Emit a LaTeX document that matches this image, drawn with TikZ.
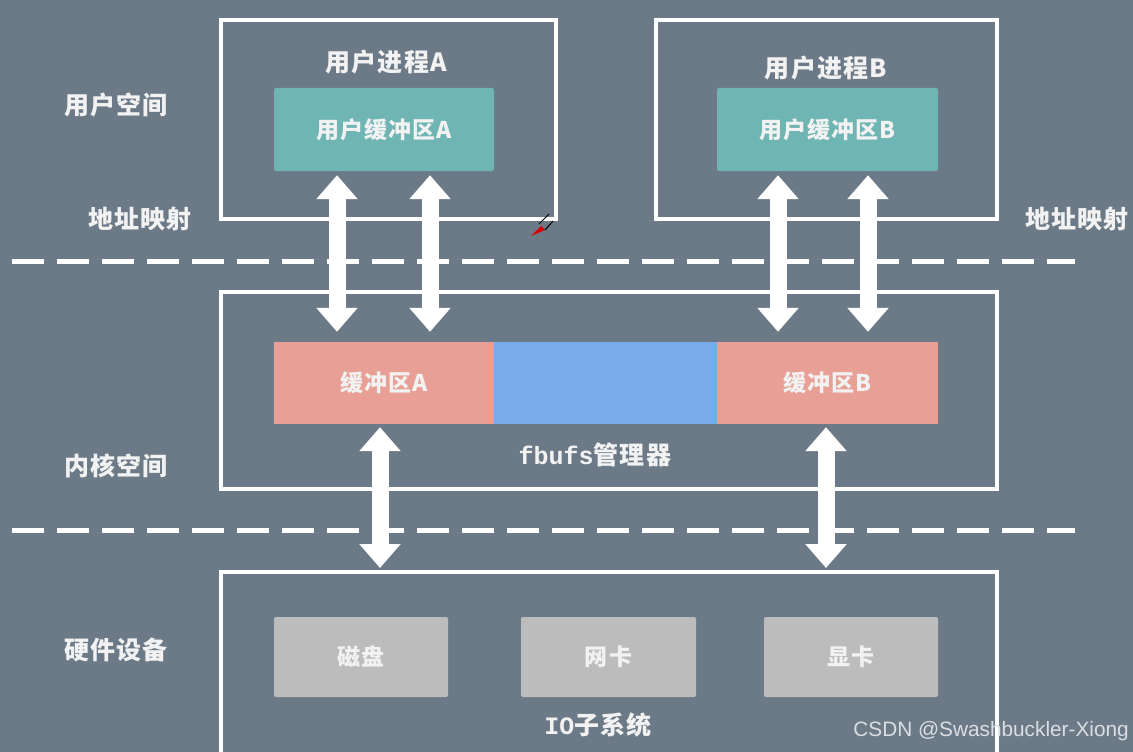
\documentclass[tikz,border=0pt]{standalone}
\usepackage{fontspec}
\setmainfont{Liberation Sans}
\newfontfamily\cjk[LetterSpace=5]{Noto Sans CJK SC}
\newfontfamily\monof{Liberation Mono}
\newfontfamily\wmfont{Liberation Sans}
\usetikzlibrary{arrows.meta}
\definecolor{bgc}{RGB}{108,122,136}
\definecolor{tealc}{RGB}{111,181,179}
\definecolor{salmonc}{RGB}{232,160,150}
\definecolor{bluec}{RGB}{121,170,235}
\definecolor{grayc}{RGB}{188,188,188}
\definecolor{txtc}{RGB}{242,242,242}
\definecolor{wmc}{RGB}{218,222,226}
\tikzset{
  frame/.style={draw=white, line width=4pt, fill=none, inner sep=0pt},
  fillbox/.style={draw=none, inner sep=0pt, text=txtc, font=\cjk\bfseries\fontsize{23}{26}\selectfont},
  lbl/.style={text=txtc, inner sep=0pt, font=\cjk\bfseries\fontsize{25}{28}\selectfont},
  dblarrow/.style={white, line width=17pt,
    {Triangle[width=40pt,length=24pt]}-{Triangle[width=40pt,length=24pt]}},
  dashline/.style={white, line width=5pt, dash pattern=on 32pt off 13pt},
}
\begin{document}
\begin{tikzpicture}[x=1pt,y=-1pt]
\fill[bgc] (0,0) rectangle (1133,752);
\useasboundingbox (0,0) rectangle (1133,752);

% dashed separators
\coordinate (d1s) at (12,261); \coordinate (d1e) at (1075,261);
\coordinate (d2s) at (12,530); \coordinate (d2e) at (1075,530);
\draw[dashline] (d1s) -- (d1e);
\draw[dashline] (d2s) -- (d2e);

% user processes
\node[frame, minimum width=335pt, minimum height=199pt] (procA) at (388.5,119.5) {};
\node[frame, minimum width=341pt, minimum height=199pt] (procB) at (826.5,119.5) {};
\node[lbl] (tA) at (386,62) {用户进程A};
\node[lbl] (tB) at (826,68) {用户进程B};
\node[fillbox, fill=tealc, rounded corners=2pt, minimum width=220pt, minimum height=83pt] (ubufA) at (384,129.5) {用户缓冲区A};
\node[fillbox, fill=tealc, rounded corners=2pt, minimum width=221pt, minimum height=83pt] (ubufB) at (827.5,129.5) {用户缓冲区B};

% kernel
\node[frame, minimum width=776pt, minimum height=197pt] (kern) at (609,390.5) {};
\node[fillbox, fill=salmonc, minimum width=220pt, minimum height=82pt] (kbufA) at (384,383) {缓冲区A};
\node[fillbox, fill=bluec, minimum width=223pt, minimum height=82pt] (kmid) at (605.5,383) {};
\node[fillbox, fill=salmonc, minimum width=221pt, minimum height=82pt] (kbufB) at (827.5,383) {缓冲区B};
\node[lbl] (fb) at (595,455) {{\monof\bfseries fbufs}管理器};

% hardware
\node[frame, minimum width=776pt, minimum height=200pt] (hw) at (609,672) {};
\node[fillbox, fill=grayc, rounded corners=2pt, minimum width=174pt, minimum height=80pt] (disk) at (361,657) {磁盘};
\node[fillbox, fill=grayc, rounded corners=2pt, minimum width=175pt, minimum height=80pt] (nic) at (608.5,657) {网卡};
\node[fillbox, fill=grayc, rounded corners=2pt, minimum width=174pt, minimum height=80pt] (gpu) at (851,657) {显卡};
\node[lbl] (io) at (598,725) {{\monof\bfseries IO}子系统};

% side labels
\node[lbl] (us) at (116,105) {用户空间};
\node[lbl] (am1) at (140,219) {地址映射};
\node[lbl] (am2) at (1077,219) {地址映射};
\node[lbl] (ks) at (116,466) {内核空间};
\node[lbl] (hd) at (116,650) {硬件设备};

% arrows
\draw[dblarrow, shorten <=4pt, shorten >=10pt] ([xshift=-47pt]ubufA.south) -- ([xshift=-47pt]kbufA.north);
\draw[dblarrow, shorten <=4pt, shorten >=10pt] ([xshift=46pt]ubufA.south) -- ([xshift=46pt]kbufA.north);
\draw[dblarrow, shorten <=4pt, shorten >=10pt] ([xshift=-49.5pt]ubufB.south) -- ([xshift=-49.5pt]kbufB.north);
\draw[dblarrow, shorten <=4pt, shorten >=10pt] ([xshift=40.5pt]ubufB.south) -- ([xshift=40.5pt]kbufB.north);
\draw[dblarrow, shorten <=3pt, shorten >=2pt] ([xshift=-4pt]kbufA.south) -- ([xshift=-4pt]kbufA.south |- hw.north);
\draw[dblarrow, shorten <=3pt, shorten >=2pt] ([xshift=-1.5pt]kbufB.south) -- ([xshift=-1.5pt]kbufB.south |- hw.north);

% cursor artifact
\fill[red!85!black] (531,236) -- (541,226) -- (545,230) -- cycle;
\draw[black, line width=1pt] (539,224) -- (549,214);
\draw[black, line width=1pt] (545,230) -- (553,221);

% watermark
\node[anchor=east, text=wmc, inner sep=0pt, font=\wmfont\fontsize{20.8}{24}\selectfont] (wm) at (1129,731) {CSDN @Swashbuckler-Xiong};
\end{tikzpicture}
\end{document}
